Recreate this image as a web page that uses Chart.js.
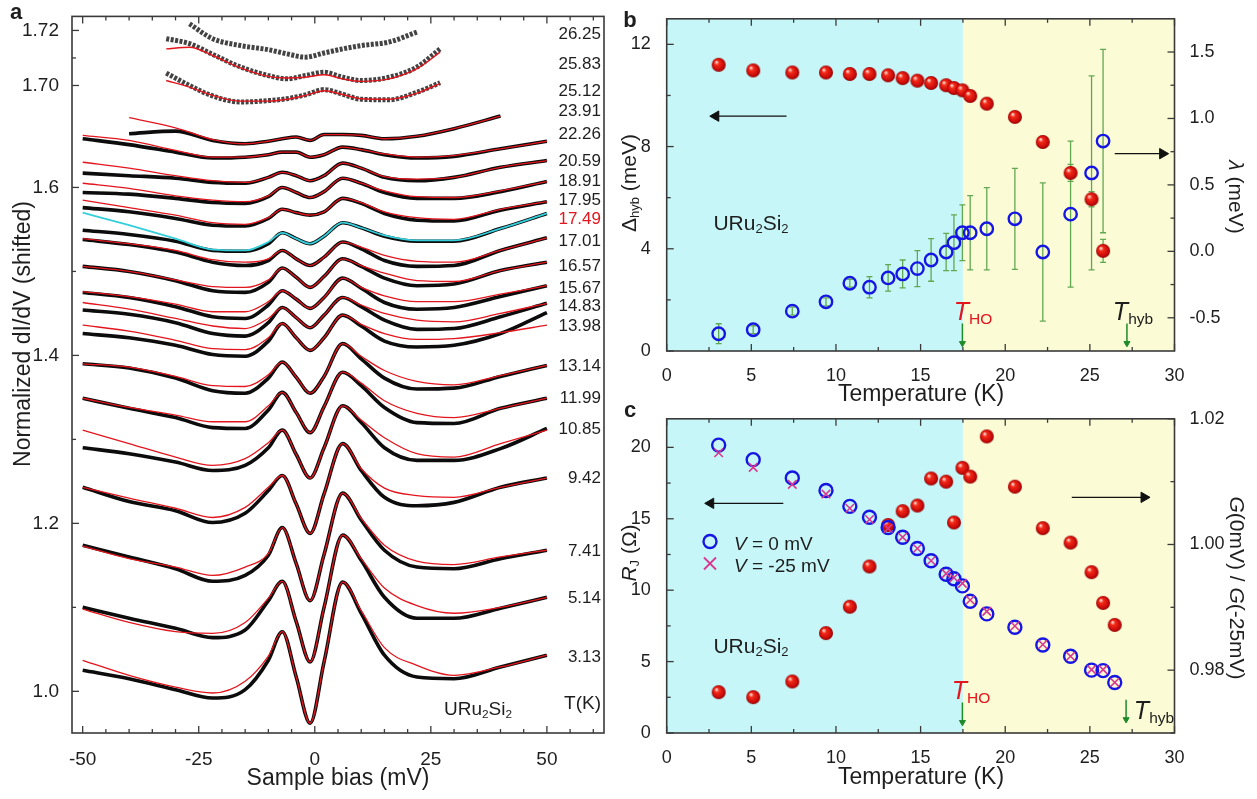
<!DOCTYPE html>
<html>
<head>
<meta charset="utf-8">
<title>URu2Si2 hybridization gap</title>
<script src="https://cdn.jsdelivr.net/npm/chart.js@4.4.1/dist/chart.umd.min.js"></script>
<style>
  html, body { margin: 0; padding: 0; background: #fff; }
  #fig { position: relative; width: 1257px; height: 799px; overflow: hidden;
         font-family: Arial, "Liberation Sans", Helvetica, sans-serif; color: #1e1e1e; }
  #fig canvas { position: absolute; }
  .t { position: absolute; white-space: nowrap; line-height: 1; transform: translate(-50%, -50%); }
  .tr { position: absolute; white-space: nowrap; line-height: 1; transform: translate(-100%, -50%); }
  .up { transform: translate(-50%, -50%) rotate(-90deg); }
  .down { transform: translate(-50%, -50%) rotate(90deg); }
  sub { font-size: 0.62em; vertical-align: -0.3em; line-height: 0; }
  .panel { font-weight: bold; font-size: 22px; }
  .it { font-style: italic; }
</style>
</head>
<body>
<div id="fig">
  <canvas id="chartA" width="620" height="799" style="left:0;top:0"></canvas>
  <canvas id="chartB" width="637" height="400" style="left:620px;top:0"></canvas>
  <canvas id="chartC" width="637" height="399" style="left:620px;top:400px"></canvas>
</div>
<script>
// ---------- panel a: normalized dI/dV vs sample bias (curves shifted) ----------
const BIAS = [-50, -40, -30, -22, -15, -10, -7, -4, -1, 2, 6, 10, 15, 22, 30, 40, 50];

const dIdV_313 = [1.025, 1.015, 1.002, 0.992, 1.002, 1.037, 1.071, 1.017, 0.962, 1.035, 1.130, 1.093, 1.043, 1.017, 1.015, 1.029, 1.043];
const fit_313  = [1.037, 1.019, 1.005, 0.998, 1.012, 1.042, 1.071, 1.017, 0.962, 1.035, 1.130, 1.096, 1.052, 1.031, 1.019, 1.029, 1.043];
const dIdV_514 = [1.100, 1.087, 1.075, 1.064, 1.073, 1.108, 1.131, 1.083, 1.035, 1.100, 1.186, 1.156, 1.112, 1.087, 1.087, 1.099, 1.112];
const fit_514  = [1.098, 1.082, 1.071, 1.069, 1.082, 1.111, 1.131, 1.083, 1.035, 1.100, 1.186, 1.158, 1.123, 1.102, 1.093, 1.100, 1.112];
const dIdV_741 = [1.174, 1.160, 1.146, 1.131, 1.138, 1.162, 1.195, 1.152, 1.108, 1.163, 1.236, 1.204, 1.168, 1.148, 1.146, 1.158, 1.168];
const fit_741  = [1.173, 1.158, 1.148, 1.138, 1.148, 1.164, 1.195, 1.152, 1.108, 1.163, 1.236, 1.206, 1.174, 1.155, 1.151, 1.160, 1.168];
const dIdV_942 = [1.243, 1.226, 1.215, 1.201, 1.212, 1.239, 1.257, 1.223, 1.188, 1.235, 1.295, 1.263, 1.231, 1.221, 1.225, 1.243, 1.254];
const fit_942  = [1.243, 1.230, 1.218, 1.207, 1.219, 1.243, 1.257, 1.223, 1.188, 1.235, 1.295, 1.265, 1.242, 1.233, 1.231, 1.243, 1.254];
const dIdV_1085 = [1.290, 1.283, 1.273, 1.263, 1.269, 1.290, 1.311, 1.282, 1.254, 1.290, 1.340, 1.320, 1.290, 1.275, 1.275, 1.289, 1.313];
const fit_1085  = [1.311, 1.295, 1.279, 1.269, 1.277, 1.296, 1.311, 1.282, 1.254, 1.290, 1.340, 1.323, 1.302, 1.283, 1.279, 1.295, 1.311];
const dIdV_1199 = [1.349, 1.337, 1.326, 1.314, 1.313, 1.335, 1.356, 1.332, 1.308, 1.339, 1.380, 1.364, 1.338, 1.320, 1.319, 1.337, 1.349];
const fit_1199  = [1.349, 1.338, 1.329, 1.321, 1.321, 1.340, 1.356, 1.332, 1.308, 1.339, 1.380, 1.367, 1.346, 1.331, 1.326, 1.337, 1.349];
const dIdV_1314 = [1.390, 1.385, 1.373, 1.358, 1.355, 1.373, 1.392, 1.374, 1.355, 1.375, 1.414, 1.396, 1.373, 1.360, 1.361, 1.375, 1.388];
const fit_1314  = [1.390, 1.386, 1.375, 1.364, 1.363, 1.377, 1.392, 1.374, 1.355, 1.375, 1.414, 1.399, 1.382, 1.369, 1.365, 1.376, 1.388];
const dIdV_1398 = [1.426, 1.421, 1.412, 1.401, 1.399, 1.417, 1.438, 1.421, 1.406, 1.421, 1.448, 1.435, 1.417, 1.410, 1.412, 1.426, 1.451];
const fit_1398  = [1.436, 1.429, 1.418, 1.408, 1.407, 1.421, 1.438, 1.421, 1.406, 1.421, 1.448, 1.437, 1.426, 1.419, 1.420, 1.427, 1.436];
const dIdV_1483 = [1.454, 1.449, 1.439, 1.426, 1.423, 1.439, 1.457, 1.445, 1.433, 1.448, 1.469, 1.458, 1.442, 1.431, 1.432, 1.446, 1.462];
const fit_1483  = [1.463, 1.455, 1.444, 1.435, 1.432, 1.444, 1.457, 1.445, 1.433, 1.448, 1.469, 1.460, 1.450, 1.442, 1.440, 1.450, 1.462];
const dIdV_1567 = [1.475, 1.469, 1.458, 1.446, 1.444, 1.460, 1.477, 1.467, 1.456, 1.469, 1.492, 1.480, 1.463, 1.455, 1.457, 1.470, 1.483];
const fit_1567  = [1.476, 1.470, 1.461, 1.452, 1.452, 1.464, 1.477, 1.467, 1.456, 1.469, 1.492, 1.481, 1.471, 1.464, 1.464, 1.473, 1.483];
const dIdV_1657 = [1.506, 1.500, 1.489, 1.477, 1.475, 1.487, 1.504, 1.493, 1.481, 1.494, 1.515, 1.506, 1.492, 1.483, 1.485, 1.501, 1.511];
const fit_1657  = [1.506, 1.500, 1.490, 1.482, 1.481, 1.490, 1.504, 1.493, 1.481, 1.494, 1.515, 1.507, 1.498, 1.489, 1.488, 1.501, 1.511];
const dIdV_1701 = [1.538, 1.532, 1.523, 1.511, 1.507, 1.513, 1.525, 1.515, 1.507, 1.517, 1.535, 1.527, 1.513, 1.506, 1.507, 1.525, 1.540];
const fit_1701  = [1.539, 1.533, 1.525, 1.514, 1.511, 1.515, 1.525, 1.515, 1.507, 1.517, 1.535, 1.529, 1.519, 1.512, 1.511, 1.525, 1.540];
const dIdV_1749 = [1.549, 1.544, 1.536, 1.525, 1.524, 1.533, 1.546, 1.539, 1.533, 1.542, 1.558, 1.552, 1.542, 1.536, 1.536, 1.551, 1.569];
const fit_1749  = [1.570, 1.555, 1.539, 1.526, 1.525, 1.535, 1.546, 1.539, 1.533, 1.542, 1.558, 1.552, 1.543, 1.537, 1.537, 1.551, 1.569]; // cyan fit
const dIdV_1795 = [1.576, 1.571, 1.563, 1.555, 1.554, 1.563, 1.574, 1.570, 1.567, 1.571, 1.587, 1.581, 1.569, 1.561, 1.560, 1.573, 1.583];
const fit_1795  = [1.585, 1.576, 1.567, 1.558, 1.556, 1.564, 1.574, 1.570, 1.567, 1.571, 1.587, 1.582, 1.571, 1.564, 1.562, 1.574, 1.583];
const dIdV_1891 = [1.594, 1.592, 1.587, 1.582, 1.581, 1.589, 1.600, 1.594, 1.588, 1.595, 1.611, 1.605, 1.594, 1.587, 1.587, 1.595, 1.607];
const fit_1891  = [1.605, 1.599, 1.590, 1.585, 1.583, 1.590, 1.600, 1.594, 1.588, 1.595, 1.611, 1.605, 1.596, 1.589, 1.588, 1.596, 1.607];
const dIdV_2059 = [1.617, 1.614, 1.611, 1.606, 1.605, 1.612, 1.618, 1.614, 1.608, 1.614, 1.629, 1.623, 1.612, 1.608, 1.612, 1.624, 1.632];
const fit_2059  = [1.630, 1.623, 1.614, 1.608, 1.606, 1.612, 1.618, 1.614, 1.608, 1.614, 1.629, 1.623, 1.613, 1.610, 1.612, 1.624, 1.632];
const dIdV_2226 = [1.658, 1.651, 1.642, 1.635, 1.636, 1.639, 1.642, 1.642, 1.636, 1.639, 1.648, 1.645, 1.639, 1.635, 1.637, 1.646, 1.655];
const fit_2226  = [1.662, 1.656, 1.644, 1.636, 1.636, 1.639, 1.642, 1.642, 1.636, 1.639, 1.648, 1.645, 1.640, 1.636, 1.638, 1.646, 1.655];
const dIdV_2391 = [null, 1.664, 1.667, 1.656, 1.652, 1.655, 1.658, 1.660, 1.656, 1.663, 1.663, 1.662, 1.658, 1.661, 1.670, 1.685, null];
const fit_2391  = [null, 1.683, 1.671, 1.657, 1.652, 1.655, 1.658, 1.660, 1.656, 1.663, 1.663, 1.662, 1.658, 1.661, 1.670, 1.685, null];

// the three warmest spectra sit on the expanded upper part of the axis
const BIAS_TOP = [-32, -27, -22, -16, -10, -6, -2, 2, 6, 10, 16, 22, 27];
const dIdV_2512 = [1.7045, 1.7000, 1.6962, 1.6940, 1.6945, 1.6952, 1.6966, 1.6985, 1.6968, 1.6950, 1.6948, 1.6975, 1.7010];
const fit_2512  = [1.7018, 1.6994, 1.6964, 1.6943, 1.6943, 1.6950, 1.6964, 1.6981, 1.6967, 1.6952, 1.6950, 1.6972, 1.7008];
const dIdV_2583 = [1.7170, 1.7152, 1.7113, 1.7067, 1.7036, 1.7024, 1.7036, 1.7048, 1.7030, 1.7018, 1.7030, 1.7067, 1.7133];
const fit_2583  = [1.7133, 1.7139, 1.7109, 1.7064, 1.7033, 1.7027, 1.7030, 1.7039, 1.7024, 1.7015, 1.7024, 1.7061, 1.7121];
const dIdV_2625 = [null, 1.7224, 1.7170, 1.7145, 1.7130, 1.7115, 1.7103, 1.7118, 1.7133, 1.7145, 1.7158, 1.7194, null];

const A_X_MAJOR = [-50, -25, 0, 25, 50];
const A_X_MINOR = [-45, -40, -35, -30, -20, -15, -10, -5, 5, 10, 15, 20, 30, 35, 40, 45, 55, 60];
const A_Y_MAJOR = [1.0, 1.2, 1.4, 1.6];
const A_Y_MINOR = [1.1, 1.3, 1.5];
const A_YTOP_MAJOR = [1.70, 1.72];
const A_YTOP_MINOR = [1.71];

// ---------- panel b: hybridization gap and lambda vs temperature ----------
const T_B = [3.07, 5.11, 7.42, 9.41, 10.82, 11.98, 13.08, 13.94, 14.81, 15.62, 16.51, 16.97, 17.47, 17.93, 18.91, 20.57, 22.22, 23.86, 25.10, 25.78];
const DELTA_HYB = [11.2, 10.98, 10.9, 10.9, 10.84, 10.84, 10.79, 10.68, 10.58, 10.49, 10.4, 10.29, 10.2, 9.98, 9.68, 9.16, 8.18, 6.97, 5.94, 3.92];
const DELTA_ERR = [0.1, 0.1, 0.1, 0.1, 0.1, 0.1, 0.1, 0.1, 0.1, 0.1, 0.1, 0.1, 0.1, 0.1, 0.15, 0.18, 0.22, 0.33, 0.3, 0.45];
const LAMBDA = [-0.62, -0.59, -0.45, -0.38, -0.24, -0.27, -0.20, -0.17, -0.13, -0.065, -0.005, 0.065, 0.14, 0.14, 0.17, 0.245, -0.005, 0.28, 0.59, 0.83];
const LAMBDA_ERR = [0.075, 0.03, 0.03, 0.03, 0.03, 0.08, 0.1, 0.105, 0.135, 0.16, 0.14, 0.21, 0.21, 0.28, 0.31, 0.38, 0.52, 0.55, 0.73, 0.69];

// ---------- panel c: junction resistance and conductance ratio ----------
const T_C = [3.07, 5.11, 7.42, 9.41, 10.82, 11.98, 13.08, 13.94, 14.81, 15.62, 16.51, 16.97, 17.47, 17.93, 18.91, 20.57, 22.22, 23.86, 25.10, 25.78, 26.47];
const RJ_0MV = [20.16, 19.14, 17.86, 16.98, 15.87, 15.11, 14.39, 13.71, 12.92, 12.06, 11.12, 10.80, 10.30, 9.22, 8.34, 7.40, 6.16, 5.37, 4.40, 4.37, 3.54];
const RJ_25MV = [19.62, 18.60, 17.41, 16.73, 15.74, 14.95, 14.32, 13.71, 12.92, 12.06, 11.16, 10.87, 10.48, 9.31, 8.52, 7.49, 6.20, 5.37, 4.44, 4.44, 3.54];
const G_RATIO = [0.9765, 0.9757, 0.9782, 0.9859, 0.9901, 0.9965, 1.0031, 1.0053, 1.0062, 1.0105, 1.0100, 1.0035, 1.0122, 1.0108, 1.0172, 1.0092, 1.0026, 1.0003, 0.9956, 0.9907, 0.9872];

const T_HO = 17.5;
const T_HYB = 27.2;
const T_X_MAJOR = [0, 5, 10, 15, 20, 25, 30];
const T_X_MINOR = [2.5, 7.5, 12.5, 17.5, 22.5, 27.5];
const B_Y_MAJOR = [0, 4, 8, 12];
const B_Y_MINOR = [2, 6, 10];
const B_Y2_MAJOR = [-0.5, 0, 0.5, 1.0, 1.5];
const B_Y2_MINOR = [-0.25, 0.25, 0.75, 1.25];
const C_Y_MAJOR = [0, 5, 10, 15, 20];
const C_Y_MINOR = [2.5, 7.5, 12.5, 17.5];
const C_Y2_MAJOR = [0.98, 1.00, 1.02];
const C_Y2_MINOR = [0.97, 0.99, 1.01];

// arrows [x0, x1, y0, y1]
const ARROW_B_LEFT = [7.08, 2.9, 9.19, 9.19];
const ARROW_B_RIGHT = [26.47, 29.3, 0.735, 0.735];
const ARROW_B_HO = [17.47, 17.47, 1.08, 0.3];
const ARROW_B_HYB = [27.19, 27.19, 1.08, 0.3];
const ARROW_C_LEFT = [6.89, 2.6, 16.08, 16.08];
const ARROW_C_RIGHT = [23.93, 28.2, 1.0075, 1.0075];
const ARROW_C_HO = [17.47, 17.47, 2.14, 0.75];
const ARROW_C_HYB = [27.14, 27.14, 2.32, 0.95];

const RED_FIT = '#e3151d';
const CYAN_FIT = '#35cfdc';
const BLUE = '#1616e4';
const MAGENTA = '#d8388f';
const GREEN = '#62a852';
const DARK_GREEN = '#1f8a2a';
const BAND_LOW = '#c6f6f7';
const BAND_HIGH = '#fbfbd6';
const FONT = 'Arial, "Liberation Sans", Helvetica, sans-serif';

Chart.defaults.font.family = FONT;
Chart.defaults.color = '#1e1e1e';

// shaded red ball used for the filled markers
function sphere(r) {
    const c = document.createElement('canvas');
    const s = Math.ceil(r * 2) + 2;
    c.width = s; c.height = s;
    const g = c.getContext('2d');
    const grad = g.createRadialGradient(s / 2 - r * 0.35, s / 2 - r * 0.4, r * 0.08, s / 2, s / 2, r);
    grad.addColorStop(0, '#ffd6cc');
    grad.addColorStop(0.28, '#f32a18');
    grad.addColorStop(0.8, '#c80a0a');
    grad.addColorStop(1, '#8a0000');
    g.fillStyle = grad;
    g.beginPath();
    g.arc(s / 2, s / 2, r, 0, Math.PI * 2);
    g.fill();
    return c;
}
const BALL = sphere(7);

// bands, inward tick marks and the closed frame
const framePlugin = {
    id: 'frame',
    beforeDatasetsDraw(chart, args, opts) {
        const {ctx, chartArea: a, scales} = chart;
        ctx.save();
        (opts.bands || []).forEach(b => {
            const x0 = scales.x.getPixelForValue(b.from);
            const x1 = scales.x.getPixelForValue(b.to);
            ctx.fillStyle = b.color;
            ctx.fillRect(x0, a.top, x1 - x0, a.bottom - a.top);
        });
        ctx.restore();
    },
    afterDatasetsDraw(chart, args, opts) {
        const {ctx, chartArea: a, scales} = chart;
        ctx.save();
        ctx.strokeStyle = '#3a3a3a';
        ctx.lineWidth = 1.3;
        (opts.ticks || []).forEach(t => {
            const s = scales[t.scale];
            [[t.major, 7], [t.minor || [], 4]].forEach(([vals, len]) => {
                vals.forEach(v => {
                    const p = s.getPixelForValue(v);
                    ctx.beginPath();
                    if (t.side === 'bottom') { ctx.moveTo(p, a.bottom); ctx.lineTo(p, a.bottom - len); }
                    if (t.side === 'top') { ctx.moveTo(p, a.top); ctx.lineTo(p, a.top + len); }
                    if (t.side === 'left') { ctx.moveTo(a.left, p); ctx.lineTo(a.left + len, p); }
                    if (t.side === 'right') { ctx.moveTo(a.right, p); ctx.lineTo(a.right - len, p); }
                    ctx.stroke();
                });
            });
        });
        ctx.lineWidth = 1.6;
        ctx.strokeRect(a.left, a.top, a.right - a.left, a.bottom - a.top);
        ctx.restore();
    }
};

function points(xs, ys) {
    return xs.map((x, i) => ({x, y: ys[i]}));
}

function errorBars(xs, ys, es) {
    const pts = [];
    xs.forEach((x, i) => {
        pts.push({x, y: ys[i] - es[i]}, {x, y: ys[i] + es[i]}, {x, y: null});
    });
    return pts;
}

function errorSet(xs, ys, es, axis) {
    return {
        type: 'line', data: errorBars(xs, ys, es), yAxisID: axis, order: 5,
        borderColor: GREEN, borderWidth: 1.3, spanGaps: false,
        pointStyle: 'line', pointBorderColor: GREEN, pointBorderWidth: 1.3,
        pointRadius: ctx => (ctx.raw && ctx.raw.y !== null ? 3 : 0)
    };
}

function arrow(a, color, head, rot, axis, width) {
    return {
        type: 'line', data: [{x: a[0], y: a[2]}, {x: a[1], y: a[3]}], yAxisID: axis, order: 0,
        borderColor: color, borderWidth: width, pointStyle: 'triangle',
        pointRadius: [0, head], pointRotation: [0, rot],
        pointBackgroundColor: color, pointBorderColor: color, pointBorderWidth: 1
    };
}

function fixedTicks(values) {
    return axis => { axis.ticks = values.map(v => ({value: v})); };
}

const noGrid = {display: false};
const noBorder = {display: false};

// ---------- chart a ----------
const LOWER = [
    ['3.13', dIdV_313, fit_313], ['5.14', dIdV_514, fit_514], ['7.41', dIdV_741, fit_741],
    ['9.42', dIdV_942, fit_942], ['10.85', dIdV_1085, fit_1085], ['11.99', dIdV_1199, fit_1199],
    ['13.14', dIdV_1314, fit_1314], ['13.98', dIdV_1398, fit_1398], ['14.83', dIdV_1483, fit_1483],
    ['15.67', dIdV_1567, fit_1567], ['16.57', dIdV_1657, fit_1657], ['17.01', dIdV_1701, fit_1701],
    ['17.49', dIdV_1749, fit_1749], ['17.95', dIdV_1795, fit_1795], ['18.91', dIdV_1891, fit_1891],
    ['20.59', dIdV_2059, fit_2059], ['22.26', dIdV_2226, fit_2226], ['23.91', dIdV_2391, fit_2391]
];
const UPPER = [['25.12', dIdV_2512, fit_2512], ['25.83', dIdV_2583, fit_2583], ['26.25', dIdV_2625, null]];

const aSets = [];
LOWER.forEach(([t, d, f]) => {
    aSets.push({label: t, data: points(BIAS, d), yAxisID: 'y', order: 2, borderColor: '#0c0c0c', borderWidth: 3.6});
    aSets.push({label: t + ' fit', data: points(BIAS, f), yAxisID: 'y', order: 1,
        borderColor: t === '17.49' ? CYAN_FIT : RED_FIT, borderWidth: t === '17.49' ? 1.8 : 1.3});
});
UPPER.forEach(([t, d, f]) => {
    aSets.push({label: t, data: points(BIAS_TOP, d), yAxisID: 'yTop', order: 2,
        borderColor: 'rgba(20,20,20,0.8)', borderWidth: 5, borderDash: [3, 1.5]});
    if (f) aSets.push({label: t + ' fit', data: points(BIAS_TOP, f), yAxisID: 'yTop', order: 1, borderColor: RED_FIT, borderWidth: 1.4});
});
aSets.forEach(s => { s.pointRadius = 0; s.cubicInterpolationMode = 'monotone'; s.spanGaps = false; });

new Chart(document.getElementById('chartA'), {
    type: 'line',
    data: {datasets: aSets},
    plugins: [framePlugin],
    options: {
        responsive: false, animation: false, events: [], devicePixelRatio: 1,
        layout: {padding: {top: 16, right: 16, left: 0, bottom: 0}},
        plugins: {
            legend: {display: false}, tooltip: {enabled: false},
            frame: {ticks: [
                {scale: 'x', side: 'bottom', major: A_X_MAJOR, minor: A_X_MINOR},
                {scale: 'x', side: 'top', major: A_X_MAJOR, minor: A_X_MINOR},
                {scale: 'y', side: 'left', major: A_Y_MAJOR, minor: A_Y_MINOR},
                {scale: 'yTop', side: 'left', major: A_YTOP_MAJOR, minor: A_YTOP_MINOR}
            ]}
        },
        scales: {
            x: {
                type: 'linear', min: -52.3, max: 62.3, grid: noGrid, border: noBorder,
                ticks: {font: {size: 19}, padding: 7, maxRotation: 0, autoSkip: false},
                afterBuildTicks: fixedTicks(A_X_MAJOR),
                afterFit: s => { s.height = 66; }
            },
            y: {
                type: 'linear', position: 'left', stack: 'dIdV', stackWeight: 622,
                min: 0.9504, max: 1.6906, grid: noGrid, border: noBorder,
                ticks: {font: {size: 19}, padding: 5, autoSkip: false, callback: v => v.toFixed(1)},
                afterBuildTicks: fixedTicks(A_Y_MAJOR),
                afterFit: s => { s.width = 72; }
            },
            yTop: {
                type: 'linear', position: 'left', stack: 'dIdV', stackWeight: 95,
                min: 1.6906, max: 1.7251, grid: noGrid, border: noBorder,
                ticks: {font: {size: 19}, padding: 5, autoSkip: false, callback: v => v.toFixed(2)},
                afterBuildTicks: fixedTicks(A_YTOP_MAJOR),
                afterFit: s => { s.width = 72; }
            }
        }
    }
});

// ---------- chart b ----------
new Chart(document.getElementById('chartB'), {
    type: 'scatter',
    data: {datasets: [
        arrow(ARROW_B_LEFT, '#111', 6, -90, 'y', 1.4),
        arrow(ARROW_B_RIGHT, '#111', 6, 90, 'y2', 1.4),
        arrow(ARROW_B_HO, DARK_GREEN, 3.5, 180, 'y', 1.5),
        arrow(ARROW_B_HYB, DARK_GREEN, 3.5, 180, 'y', 1.5),
        {label: 'lambda', data: points(T_B, LAMBDA), yAxisID: 'y2', order: 1,
            pointStyle: 'circle', pointRadius: 6.2, pointBorderWidth: 2.4,
            pointBorderColor: BLUE, pointBackgroundColor: 'rgba(0,0,0,0)'},
        {label: 'Delta_hyb', data: points(T_B, DELTA_HYB), yAxisID: 'y', order: 2,
            pointStyle: BALL, pointRadius: 7},
        errorSet(T_B, LAMBDA, LAMBDA_ERR, 'y2'),
        errorSet(T_B, DELTA_HYB, DELTA_ERR, 'y')
    ]},
    plugins: [framePlugin],
    options: {
        responsive: false, animation: false, events: [], devicePixelRatio: 1,
        layout: {padding: {top: 16, right: 0, left: 0, bottom: 0}},
        plugins: {
            legend: {display: false}, tooltip: {enabled: false},
            frame: {
                bands: [{from: 0, to: T_HO, color: BAND_LOW}, {from: T_HO, to: 30, color: BAND_HIGH}],
                ticks: [
                    {scale: 'x', side: 'bottom', major: T_X_MAJOR, minor: T_X_MINOR},
                    {scale: 'x', side: 'top', major: T_X_MAJOR, minor: T_X_MINOR},
                    {scale: 'y', side: 'left', major: B_Y_MAJOR, minor: B_Y_MINOR},
                    {scale: 'y2', side: 'right', major: B_Y2_MAJOR, minor: B_Y2_MINOR}
                ]
            }
        },
        scales: {
            x: {
                type: 'linear', min: 0, max: 30, grid: noGrid, border: noBorder,
                ticks: {font: {size: 18}, padding: 6, maxRotation: 0, autoSkip: false},
                afterBuildTicks: fixedTicks(T_X_MAJOR),
                afterFit: s => { s.height = 49; }
            },
            y: {
                type: 'linear', position: 'left', min: 0, max: 13, grid: noGrid, border: noBorder,
                ticks: {font: {size: 18}, padding: 8, autoSkip: false},
                afterBuildTicks: fixedTicks(B_Y_MAJOR),
                afterFit: s => { s.width = 46.7; }
            },
            y2: {
                type: 'linear', position: 'right', min: -0.75, max: 1.75, grid: noGrid, border: noBorder,
                ticks: {font: {size: 18}, padding: 7, autoSkip: false, callback: v => v.toFixed(1)},
                afterBuildTicks: fixedTicks(B_Y2_MAJOR),
                afterFit: s => { s.width = 82.5; }
            }
        }
    }
});

// ---------- chart c ----------
new Chart(document.getElementById('chartC'), {
    type: 'scatter',
    data: {datasets: [
        arrow(ARROW_C_LEFT, '#111', 6, -90, 'y', 1.4),
        arrow(ARROW_C_RIGHT, '#111', 6, 90, 'y2', 1.4),
        arrow(ARROW_C_HO, DARK_GREEN, 3.5, 180, 'y', 1.5),
        arrow(ARROW_C_HYB, DARK_GREEN, 3.5, 180, 'y', 1.5),
        {label: 'V = -25 mV', data: points(T_C, RJ_25MV), yAxisID: 'y', order: 1,
            pointStyle: 'crossRot', pointRadius: 6, pointBorderWidth: 1.6, pointBorderColor: MAGENTA},
        {label: 'V = 0 mV', data: points(T_C, RJ_0MV), yAxisID: 'y', order: 2,
            pointStyle: 'circle', pointRadius: 6.5, pointBorderWidth: 2.4,
            pointBorderColor: BLUE, pointBackgroundColor: 'rgba(0,0,0,0)'},
        {label: 'G(0mV)/G(-25mV)', data: points(T_C, G_RATIO), yAxisID: 'y2', order: 3,
            pointStyle: BALL, pointRadius: 7}
    ]},
    plugins: [framePlugin],
    options: {
        responsive: false, animation: false, events: [], devicePixelRatio: 1,
        layout: {padding: {top: 8.3, right: 0, left: 0, bottom: 0}},
        plugins: {
            legend: {display: false}, tooltip: {enabled: false},
            frame: {
                bands: [{from: 0, to: T_HO, color: BAND_LOW}, {from: T_HO, to: 30, color: BAND_HIGH}],
                ticks: [
                    {scale: 'x', side: 'bottom', major: T_X_MAJOR, minor: T_X_MINOR},
                    {scale: 'x', side: 'top', major: T_X_MAJOR, minor: T_X_MINOR},
                    {scale: 'y', side: 'left', major: C_Y_MAJOR, minor: C_Y_MINOR},
                    {scale: 'y2', side: 'right', major: C_Y2_MAJOR, minor: C_Y2_MINOR}
                ]
            }
        },
        scales: {
            x: {
                type: 'linear', min: 0, max: 30, grid: noGrid, border: noBorder,
                ticks: {font: {size: 18}, padding: 6, maxRotation: 0, autoSkip: false},
                afterBuildTicks: fixedTicks(T_X_MAJOR),
                afterFit: s => { s.height = 66; }
            },
            y: {
                type: 'linear', position: 'left', min: 0, max: 22, grid: noGrid, border: noBorder,
                ticks: {font: {size: 18}, padding: 8, autoSkip: false},
                afterBuildTicks: fixedTicks(C_Y_MAJOR),
                afterFit: s => { s.width = 46.7; }
            },
            y2: {
                type: 'linear', position: 'right', min: 0.97, max: 1.02, grid: noGrid, border: noBorder,
                ticks: {font: {size: 18}, padding: 7, autoSkip: false, callback: v => v.toFixed(2)},
                afterBuildTicks: fixedTicks(C_Y2_MAJOR),
                afterFit: s => { s.width = 82.5; }
            }
        }
    }
});

// ---------- text overlays ----------
const fig = document.getElementById('fig');
function addText(html, x, y, cls, style) {
    const d = document.createElement('div');
    d.className = cls || 't';
    d.innerHTML = html;
    d.style.left = x + 'px';
    d.style.top = y + 'px';
    if (style) d.style.cssText += style;
    fig.appendChild(d);
    return d;
}

// temperature labels at the right of panel a
const A_T_LABELS = ['26.25', '25.83', '25.12', '23.91', '22.26', '20.59', '18.91', '17.95', '17.49', '17.01', '16.57',
    '15.67', '14.83', '13.98', '13.14', '11.99', '10.85', '9.42', '7.41', '5.14', '3.13'];
const A_T_LABEL_Y = [33, 63, 90, 110, 133, 160, 180, 199, 218, 240, 265, 287, 305, 325, 365, 397, 428, 477, 550, 597, 656];
A_T_LABELS.forEach((t, i) => {
    addText(t, 601, A_T_LABEL_Y[i], 'tr', 'font-size:17px;' + (t === '17.49' ? 'color:#e3151d;' : ''));
});
addText('T(K)', 601, 702, 'tr', 'font-size:19px;');
addText('URu<sub>2</sub>Si<sub>2</sub>', 478, 708, 't', 'font-size:19px;');

addText('a', 16, 12, 't panel');
addText('b', 630, 20, 't panel');
addText('c', 630, 410, 't panel');

addText('Sample bias (mV)', 338, 777, 't', 'font-size:23px;');
addText('Normalized dI/dV (shifted)', 22, 334, 't up', 'font-size:23px;');

addText('Temperature (K)', 921, 393, 't', 'font-size:23px;');
addText('Temperature (K)', 921, 776, 't', 'font-size:23px;');
addText('&Delta;<sub>hyb</sub> (meV)', 628, 183, 't up', 'font-size:21px;');
addText('<span class="it">&lambda;</span> (meV)', 1236, 197, 't down', 'font-size:21px;');
addText('<span class="it">R</span><sub>J</sub> (&Omega;)', 628, 553, 't up', 'font-size:21px;');
addText('<span class="it">G</span>(0mV) / <span class="it">G</span>(-25mV)', 1237, 588, 't down', 'font-size:21px;');

addText('URu<sub>2</sub>Si<sub>2</sub>', 751, 222, 't', 'font-size:21px;');
addText('URu<sub>2</sub>Si<sub>2</sub>', 751, 645, 't', 'font-size:21px;');
addText('<span class="it">T</span><sub>HO</sub>', 973, 311, 't', 'font-size:25px;color:#e3151d;');
addText('<span class="it">T</span><sub>hyb</sub>', 1133, 311, 't', 'font-size:25px;');
addText('<span class="it">T</span><sub>HO</sub>', 971, 690, 't', 'font-size:25px;color:#e3151d;');
addText('<span class="it">T</span><sub>hyb</sub>', 1154, 710, 't', 'font-size:25px;');

// legend of panel c
addText('<svg width="18" height="18"><circle cx="9" cy="9" r="6.5" fill="none" stroke="' + BLUE + '" stroke-width="2.4"/></svg>', 710, 543);
addText('<svg width="18" height="18"><path d="M3 3 L15 15 M15 3 L3 15" stroke="' + MAGENTA + '" stroke-width="1.8"/></svg>', 710, 565);
addText('<span class="it">V</span> = 0 mV', 734, 543, 't', 'font-size:19px;transform:translate(0,-50%);');
addText('<span class="it">V</span> = -25 mV', 734, 565, 't', 'font-size:19px;transform:translate(0,-50%);');
</script>
</body>
</html>
